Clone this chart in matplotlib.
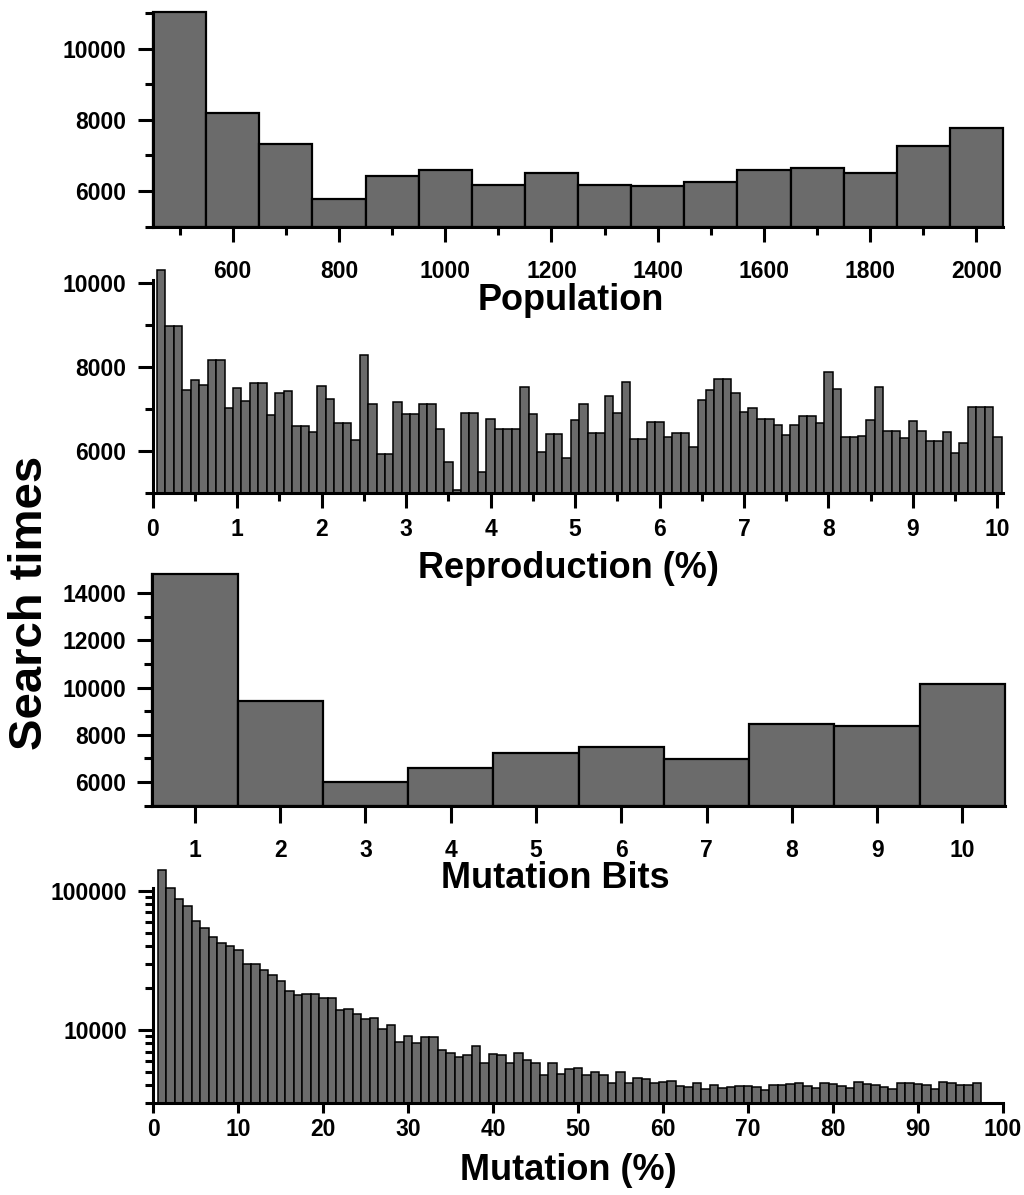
import matplotlib
matplotlib.use('Agg')
import matplotlib.pyplot as plt
from matplotlib.ticker import FixedLocator, NullFormatter, LogLocator, FixedFormatter
import numpy as np

# population panel
pop_x = [500, 600, 700, 800, 900, 1000, 1100, 1200, 1300, 1400, 1500, 1600, 1700, 1800, 1900, 2000]
pop_vals = [11040, 8190, 7310, 5785, 6435, 6600, 6170, 6500, 6170, 6140, 6245, 6590, 6660, 6500, 7270, 7780]

# reproduction panel (0.1 .. 10.0 step 0.1)
repro_x = [round(0.1 * i, 1) for i in range(1, 101)]
repro_vals = [10317, 8968, 8968, 7460, 7683, 7571, 8159, 8159, 7016, 7508,
              7190, 7619, 7619, 6857, 7381, 7421, 6611, 6611, 6468, 7540,
              7238, 6683, 6683, 6262, 8278, 7111, 5937, 5937, 7175, 6881,
              6881, 7127, 7127, 6524, 5738, 5079, 6905, 6905, 5508, 6762,
              6524, 6524, 6524, 7524, 6889, 5992, 6405, 6405, 5833, 6746,
              7111, 6437, 6437, 7302, 6905, 7635, 6286, 6286, 6690, 6690,
              6349, 6437, 6437, 6095, 7222, 7444, 7714, 7714, 7389, 6921,
              7016, 6778, 6778, 6627, 6397, 6627, 6841, 6841, 6683, 7873,
              7476, 6341, 6341, 6373, 6738, 7524, 6484, 6484, 6325, 6722,
              6492, 6254, 6254, 6468, 5968, 6198, 7048, 7048, 7048, 6349]

# mutation bits panel
bits_x = [1, 2, 3, 4, 5, 6, 7, 8, 9, 10]
bits_vals = [14800, 9430, 6020, 6600, 7245, 7483, 6990, 8445, 8373, 10170]

# mutation panel (1 .. 97)
mut_x = list(range(1, 98))
mut_vals = [141600, 105100, 88100, 77600, 60900, 54500, 46700, 42500, 40400, 37400,
            30000, 29700, 26900, 24700, 22500, 19200, 17800, 18100, 18000, 16900,
            16900, 14000, 14200, 13100, 11900, 12100, 10100, 10800, 8200, 9100,
            8100, 8900, 8950, 7180, 6800, 6370, 6640, 7710, 5820, 6710,
            6640, 5820, 6820, 6080, 5790, 4750, 5820, 4820, 5210, 5300,
            4750, 4970, 4720, 4180, 4970, 4130, 4520, 4420, 4130, 4250,
            4320, 3950, 3910, 4150, 3770, 4040, 3850, 3920, 3970, 3950,
            3900, 3700, 4020, 4020, 4060, 4180, 3950, 3850, 4180, 4090,
            3950, 3800, 4200, 4090, 4000, 3900, 3770, 4150, 4150, 4090,
            4050, 3770, 4250, 4150, 4050, 4020, 4150]

plt.rcParams['font.family'] = ['Liberation Sans', 'DejaVu Sans']
plt.rcParams['font.weight'] = 'bold'

W, H = 1024, 1195
fig = plt.figure(figsize=(W / 100, H / 100), dpi=100)

bar_color = '#6b6b6b'
label_size = 26
tick_size = 16.5


def px_axes(x0, x1, ytop, ybot):
    # 用像素坐标建立坐标轴
    ax = fig.add_axes([x0 / W, 1 - ybot / H, (x1 - x0) / W, (ybot - ytop) / H])
    ax.patch.set_visible(False)
    return ax


def style(ax, xpad):
    for s in ['top', 'right']:
        ax.spines[s].set_visible(False)
    for s in ['left', 'bottom']:
        ax.spines[s].set_linewidth(2.2)
    ax.tick_params(which='major', direction='out', length=11, width=2.2, labelsize=tick_size)
    ax.tick_params(which='minor', direction='out', length=6, width=2.2)
    ax.tick_params(axis='y', which='major', pad=8)
    ax.tick_params(axis='x', which='major', pad=xpad)
    for t in ax.get_xticklabels() + ax.get_yticklabels():
        t.set_fontweight('bold')


def bars(ax, x, vals, base, width, lw):
    # 柱子从坐标轴底部画起，顶部允许超出坐标轴
    heights = [v - base for v in vals]
    ax.bar(x, heights, width=width, bottom=base, color=bar_color,
           edgecolor='black', linewidth=lw, clip_on=False)


def xlabel(text, cx, cy):
    fig.text(cx / W, 1 - cy / H, text, fontsize=label_size, fontweight='bold',
             ha='center', va='center')


# 1. Population
ax1 = px_axes(153, 1003, 13, 226.7)
bars(ax1, pop_x, pop_vals, 5000, 100, 1.6)
ax1.set_xlim(450, 2050)
ax1.set_ylim(5000, 11000)
ax1.xaxis.set_major_locator(FixedLocator([600, 800, 1000, 1200, 1400, 1600, 1800, 2000]))
ax1.xaxis.set_minor_locator(FixedLocator([500, 700, 900, 1100, 1300, 1500, 1700, 1900]))
ax1.yaxis.set_major_locator(FixedLocator([6000, 8000, 10000]))
ax1.yaxis.set_minor_locator(FixedLocator([5000, 7000, 9000, 11000]))
style(ax1, 13)
xlabel('Population', 571, 301)

# 2. Reproduction
ax2 = px_axes(152.7, 1002.5, 279.6, 493.3)
bars(ax2, repro_x, repro_vals, 5000, 0.1, 1.1)
ax2.set_xlim(0, 10.06)
ax2.set_ylim(5000, 10080)
ax2.xaxis.set_major_locator(FixedLocator(list(range(0, 11))))
ax2.xaxis.set_minor_locator(FixedLocator([0.5 + i for i in range(10)]))
ax2.yaxis.set_major_locator(FixedLocator([6000, 8000, 10000]))
ax2.yaxis.set_minor_locator(FixedLocator([5000, 7000, 9000]))
style(ax2, 7)
xlabel('Reproduction (%)', 568, 569)

# 3. Mutation Bits
ax3 = px_axes(152.3, 1005, 574.4, 805.7)
bars(ax3, bits_x, bits_vals, 5000, 1, 1.6)
ax3.set_xlim(0.5, 10.5)
ax3.set_ylim(5000, 14800)
ax3.xaxis.set_major_locator(FixedLocator(bits_x))
ax3.yaxis.set_major_locator(FixedLocator([6000, 8000, 10000, 12000, 14000]))
ax3.yaxis.set_minor_locator(FixedLocator([5000, 7000, 9000, 11000, 13000]))
style(ax3, 12)
ax3.tick_params(axis='x', which='major', length=12)
xlabel('Mutation Bits', 555, 879)

# 4. Mutation (log)
ax4 = px_axes(153.4, 1002.7, 888, 1102.7)
bars(ax4, mut_x, mut_vals, 3000, 1, 1.1)
ax4.set_yscale('log')
ax4.set_xlim(0, 100)
ax4.set_ylim(3000, 105000)
ax4.xaxis.set_major_locator(FixedLocator(list(range(0, 101, 10))))
ax4.yaxis.set_major_locator(FixedLocator([10000, 100000]))
ax4.yaxis.set_major_formatter(FixedFormatter(['10000', '100000']))
ax4.yaxis.set_minor_locator(LogLocator(base=10, subs=np.arange(2, 10)))
ax4.yaxis.set_minor_formatter(NullFormatter())
style(ax4, 4)
ax4.tick_params(axis='x', which='major', length=7)
xlabel('Mutation (%)', 568, 1170)

fig.text(30 / W, 1 - 603 / H, 'Search times', rotation=90, fontsize=34, fontweight='bold',
         ha='center', va='center')

fig.savefig('out.png', dpi=100)
